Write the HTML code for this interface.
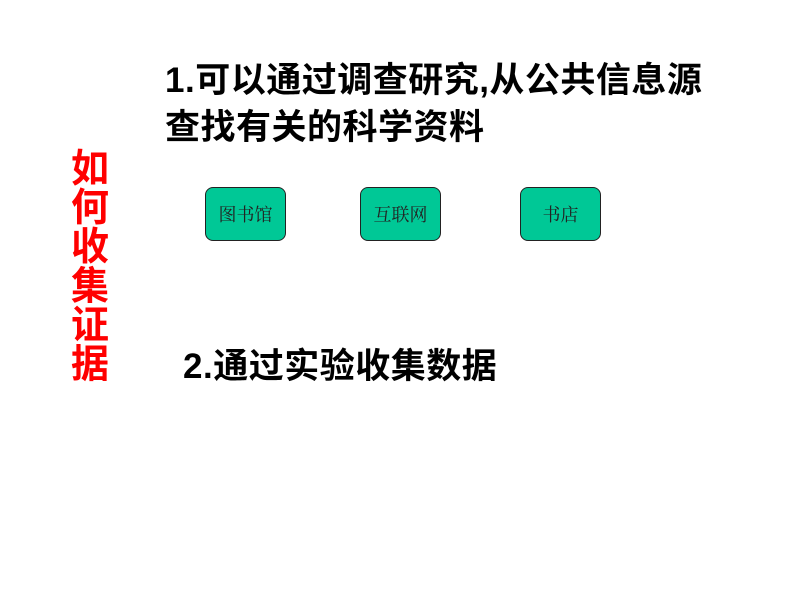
<!DOCTYPE html>
<html><head><meta charset="utf-8"><style>
body{margin:0;width:800px;height:600px;background:#fff;position:relative;overflow:hidden;font-family:"Liberation Sans","Noto Sans CJK SC",sans-serif;}
.t{position:absolute;font-weight:bold;color:#000;font-size:35px;letter-spacing:0.5px;white-space:nowrap;line-height:1}
.red{position:absolute;left:68px;top:150px;width:44px;color:#f00;font-size:38px;line-height:38px;font-weight:bold;text-align:center;transform:scaleY(1.03);transform-origin:top}
.b{position:absolute;top:187px;width:79px;height:52px;background:#00c896;border:1px solid #222;border-radius:8px;font-family:"Liberation Serif","Noto Serif CJK SC",serif;font-size:18px;line-height:55px;text-align:center;color:#222}
</style></head><body>
<div class="t" style="left:165px;top:63px">1.可以通过调查研究,从公共信息源</div>
<div class="t" style="left:165px;top:110px">查找有关的科学资料</div>
<div class="red">如<br>何<br>收<br>集<br>证<br>据</div>
<div class="b" style="left:205px">图书馆</div>
<div class="b" style="left:360px">互联网</div>
<div class="b" style="left:520px">书店</div>
<div class="t" style="left:183px;top:349px">2.通过实验收集数据</div>
</body></html>
